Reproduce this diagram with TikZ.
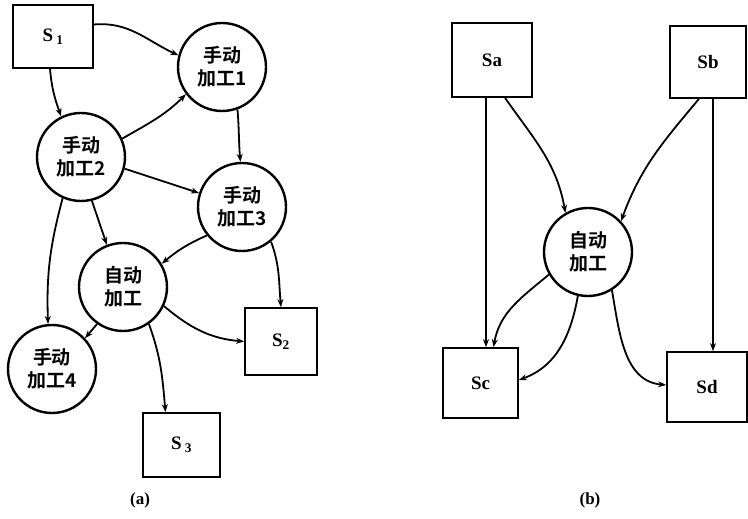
\documentclass[tikz,border=0pt]{standalone}
\usepackage{fontspec}
\setmainfont{Liberation Serif}
\newfontfamily\cjk{Noto Sans CJK SC}[BoldFont={* Bold}]
\usetikzlibrary{arrows.meta}
\tikzset{
  proc/.style={circle, draw, line width=2.4pt, minimum size=88pt, inner sep=0pt, align=center, font=\cjk\bfseries\fontsize{19}{23}\selectfont},
  store/.style={rectangle, draw, line width=1.7pt, inner sep=0pt, font=\bfseries\fontsize{19}{21}\selectfont},
  flow/.style={-{Stealth[length=8pt, width=6pt]}, line width=1.8pt},
  caption/.style={font=\bfseries\fontsize{17}{19}\selectfont}
}

\begin{document}
\begin{tikzpicture}[x=1pt,y=1pt]
\useasboundingbox (0,0) rectangle (748,519);

% (a) manual and automatic stations
\node[store, minimum width=80pt, minimum height=63pt] (s1) at (53,482.5) {S\,\textsubscript{1}};
\node[proc] (m1) at (222,452) {手动\\加工1};
\node[proc] (m2) at (81,362) {手动\\加工2};
\node[proc] (m3) at (242,312) {手动\\加工3};
\node[proc] (autoa) at (123,232) {自动\\加工};
\node[proc] (m4) at (52,150) {手动\\加工4};
\node[store, minimum width=72pt, minimum height=67pt] (s2) at (281,177.5) {S\textsubscript{2}};
\node[store, minimum width=77pt, minimum height=64pt] (s3) at (181.5,74) {S\,\textsubscript{3}};
\node[caption] (capa) at (140,19) {(a)};

\draw[flow] ([yshift=12pt]s1.east) to[out=5, in=155] (m1.165);
\draw[flow] ([xshift=-3pt]s1.south) to[out=-85, in=110] (m2.116);
\draw[flow] (m2.24) to[out=30, in=-135] (m1.217);
\draw[flow] (m1.-70) to[out=-85, in=95] (m3.92);
\draw[flow] (m2.-15) -- (m3.162);
\draw[flow] (m2.-76) -- (autoa.111);
\draw[flow] (m2.-114) to[out=-105, in=92] (m4.95);
\draw[flow] (m3.219) to[bend right=8] (autoa.31);
\draw[flow] (m3.-50) to[out=-70, in=95] (s2.north);
\draw[flow] (autoa.-25) to[out=-40, in=175] (s2.west);
\draw[flow] (autoa.-55) to[out=-70, in=95] ([xshift=-16pt]s3.north);
\draw[flow] (autoa.-125) -- (m4.43);

% (b) shared automatic station
\node[store, minimum width=80pt, minimum height=74pt] (sa) at (492,459) {Sa};
\node[store, minimum width=76pt, minimum height=72pt] (sb) at (708,457) {Sb};
\node[proc] (autob) at (588,267) {自动\\加工};
\node[store, minimum width=75pt, minimum height=70pt] (sc) at (480.5,136) {Sc};
\node[store, minimum width=80pt, minimum height=70pt] (sd) at (707,132) {Sd};
\node[caption] (capb) at (590,19) {(b)};

\draw[flow] ([xshift=-6pt]sa.south) -- ([xshift=-6pt]sa.south |- sc.north);
\draw[flow] ([xshift=13pt]sa.south) to[out=-55, in=100] (autob.120);
\draw[flow] ([xshift=-9pt]sb.south) to[out=-130, in=70] (autob.43);
\draw[flow] ([xshift=5pt]sb.south) -- ([xshift=5pt]sb.south |- sd.north);
\draw[flow] (autob.210) to[out=-140, in=80] ([xshift=13pt]sc.north);
\draw[flow] (autob.-103) to[out=-100, in=20] ([yshift=3pt]sc.east);
\draw[flow] (autob.-58) to[out=-80, in=175] ([yshift=2pt]sd.west);

\end{tikzpicture}
\end{document}
